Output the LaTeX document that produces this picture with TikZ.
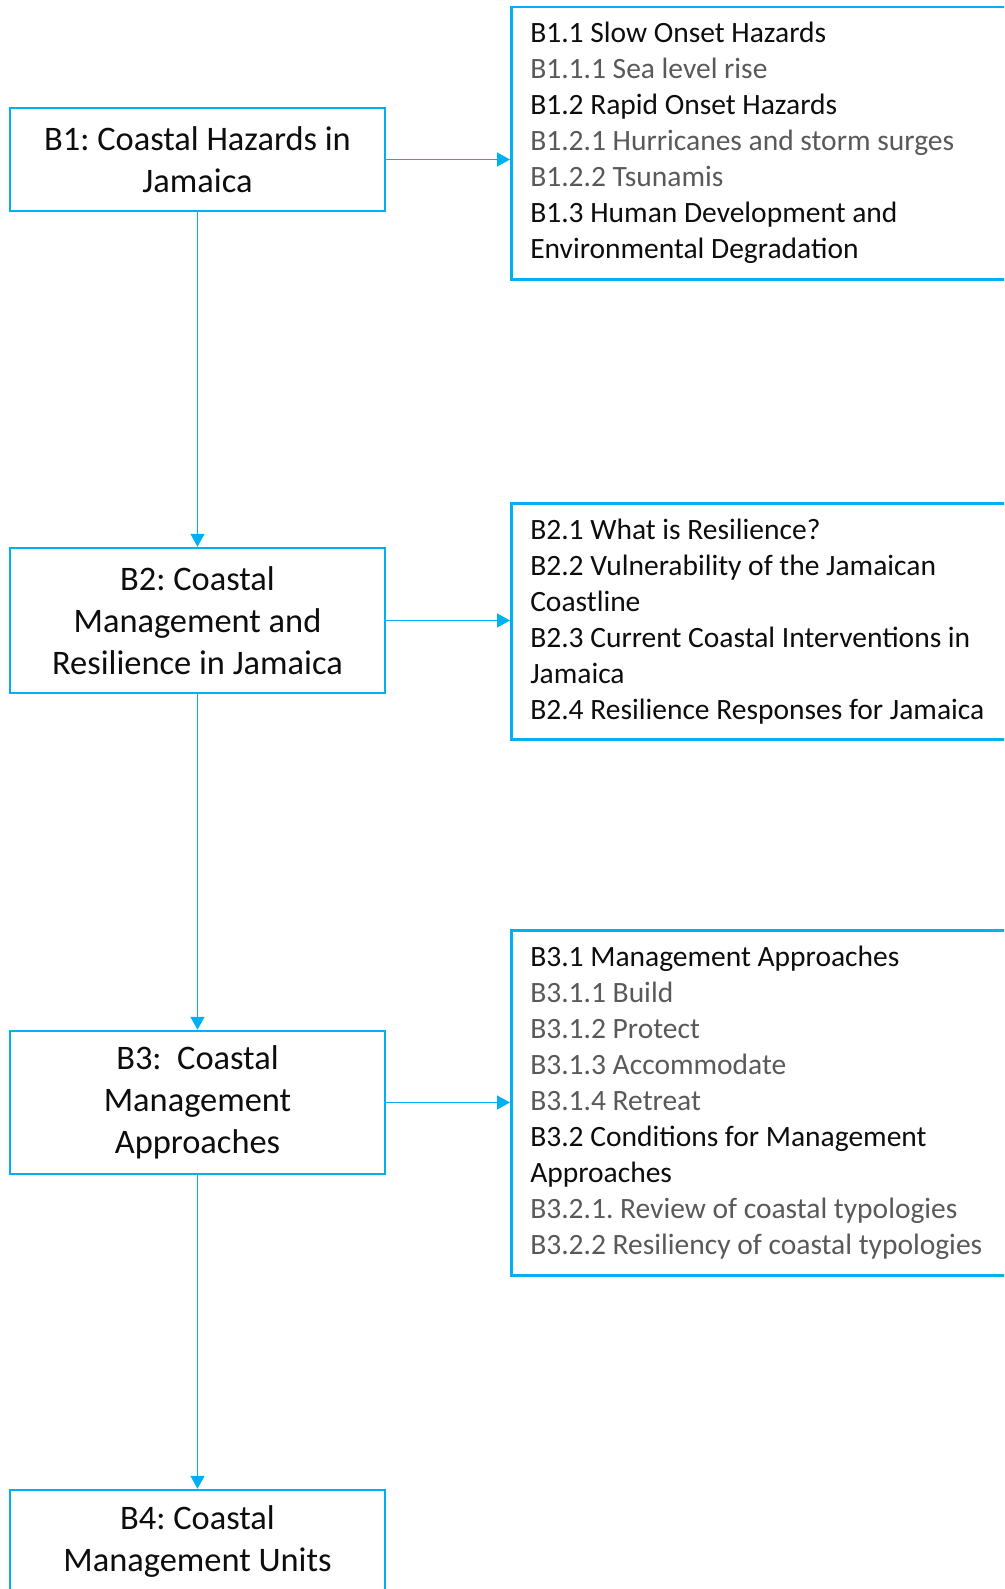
\documentclass[tikz,border=0pt]{standalone}
\usepackage{fontspec}
\setmainfont{Carlito}
\usetikzlibrary{arrows.meta}
\definecolor{linkblue}{HTML}{00B0F0}
\definecolor{subgray}{HTML}{595959}
\definecolor{headtext}{HTML}{0D0D0D}
\frenchspacing
\newcommand\chapfont{\fontsize{34.4}{42}\selectfont\frenchspacing}
\newcommand\topicfont{\fontsize{29.5}{36}\selectfont\frenchspacing}
\begin{document}
\begin{tikzpicture}[x=1pt,y=-1pt,
  chapbox/.style={draw=linkblue, line width=2.5pt, minimum width=375pt,
    text width=355pt, inner xsep=10pt, inner ysep=0pt, align=flush center,
    text=headtext, font=\chapfont},
  topicbox/.style={draw=linkblue, line width=2.5pt, anchor=north west,
    text width=480pt, inner xsep=19pt, inner ysep=0pt, align=flush left,
    text=headtext, font=\topicfont},
  conn/.style={draw=linkblue, line width=1.5pt,
    -{Triangle[length=13pt,width=14pt]}}
]
\useasboundingbox (0,0) rectangle (1004,1589);
\clip (0,0) rectangle (1004,1589);

% chapter boxes on the left
\node[chapbox, minimum height=103pt] (b1) at (197.5,159.5)
  {B1: Coastal Hazards in\\Jamaica};
\node[chapbox, minimum height=145pt] (b2) at (197.5,620.5)
  {B2: Coastal\\Management and\\Resilience in Jamaica};
\node[chapbox, minimum height=143pt] (b3) at (197.5,1102.5)
  {B3:\ \ Coastal\\Management\\Approaches};
\node[chapbox, minimum height=103pt] (b4) at (197.5,1541.5)
  {B4: Coastal\\Management Units};

% section lists on the right
\node[topicbox, minimum height=272pt] (r1) at (510,6)
  {B1.1 Slow Onset Hazards\\
   {\color{subgray}B1.1.1 Sea level rise}\\
   B1.2 Rapid Onset Hazards\\
   {\color{subgray}B1.2.1 Hurricanes and storm surges}\\
   {\color{subgray}B1.2.2 Tsunamis}\\
   B1.3 Human Development and\\
   Environmental Degradation};
\node[topicbox, minimum height=236pt] (r2) at (510,502)
  {B2.1 What is Resilience?\\
   B2.2 Vulnerability of the Jamaican\\
   Coastline\\
   B2.3 Current Coastal Interventions in\\
   Jamaica\\
   B2.4 Resilience Responses for Jamaica};
\node[topicbox, minimum height=345pt] (r3) at (510,929)
  {B3.1 Management Approaches\\
   {\color{subgray}B3.1.1 Build}\\
   {\color{subgray}B3.1.2 Protect}\\
   {\color{subgray}B3.1.3 Accommodate}\\
   {\color{subgray}B3.1.4 Retreat}\\
   B3.2 Conditions for Management\\
   Approaches\\
   {\color{subgray}B3.2.1. Review of coastal typologies}\\
   {\color{subgray}B3.2.2 Resiliency of coastal typologies}};

% connectors
\draw[conn] (b1) -- (b2);
\draw[conn] (b2) -- (b3);
\draw[conn] (b3) -- (b4);
\draw[conn] (b1.east) -- (b1.east -| r1.west);
\draw[conn] (b2.east) -- (b2.east -| r2.west);
\draw[conn] (b3.east) -- (b3.east -| r3.west);
\end{tikzpicture}
\end{document}
